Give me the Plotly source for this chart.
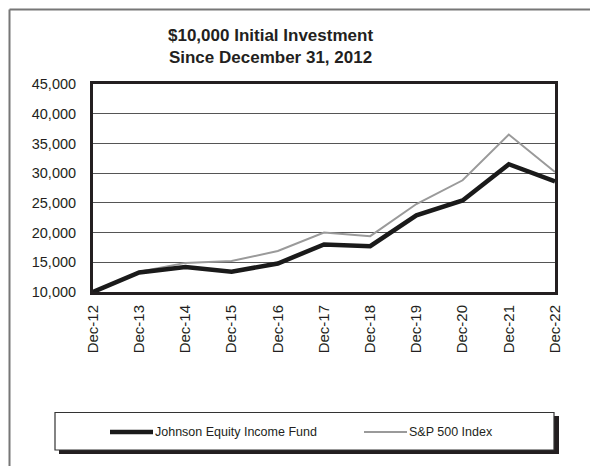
import plotly.graph_objects as go

# ---- data ----
periods = ["Dec-12", "Dec-13", "Dec-14", "Dec-15", "Dec-16", "Dec-17",
           "Dec-18", "Dec-19", "Dec-20", "Dec-21", "Dec-22"]
fund_values = [10000, 13300, 14200, 13400, 14800, 18000, 17700, 22900, 25400, 31500, 28600]
sp500_values = [10000, 13400, 14900, 15200, 16900, 20000, 19400, 24800, 28800, 36500, 30200]
y_ticks = [10000, 15000, 20000, 25000, 30000, 35000, 40000, 45000]
fund_name = "Johnson Equity Income Fund"
index_name = "S&P 500 Index"
title_text = "<b>$10,000 Initial Investment<br>Since December 31, 2012</b>"

W, H = 590, 466
L, R, T, B = 93, 555, 84, 292
FONT = "Liberation Sans, Arial, sans-serif"


def px(x):
    return (x - L) / (R - L)


def py(y):
    return (B - y) / (B - T)


fig = go.Figure()
fig.add_trace(go.Scatter(x=periods, y=sp500_values, mode="lines",
                         line=dict(color="#9a9a9a", width=2), name=index_name,
                         showlegend=False))
fig.add_trace(go.Scatter(x=periods, y=fund_values, mode="lines",
                         line=dict(color="#1a1a1a", width=4.5), name=fund_name,
                         showlegend=False))

shapes = []
# outer frame (left and top only visible)
shapes.append(dict(type="line", xref="paper", yref="paper", x0=px(9.5), x1=px(600),
                   y0=py(9.5), y1=py(9.5), line=dict(color="#777777", width=2)))
shapes.append(dict(type="line", xref="paper", yref="paper", x0=px(9.5), x1=px(9.5),
                   y0=py(9.5), y1=py(480), line=dict(color="#777777", width=2)))
# legend shadow and box
shapes.append(dict(type="rect", xref="paper", yref="paper", x0=px(59), x1=px(559),
                   y0=py(416), y1=py(454), fillcolor="#231f20",
                   line=dict(width=0), layer="above"))
shapes.append(dict(type="rect", xref="paper", yref="paper", x0=px(55), x1=px(554),
                   y0=py(412.5), y1=py(450), fillcolor="white",
                   line=dict(color="#333333", width=1.2), layer="above"))
# legend samples
shapes.append(dict(type="line", xref="paper", yref="paper", x0=px(110), x1=px(153),
                   y0=py(432), y1=py(432), line=dict(color="#1a1a1a", width=4.5),
                   layer="above"))
shapes.append(dict(type="line", xref="paper", yref="paper", x0=px(364), x1=px(407),
                   y0=py(432), y1=py(432), line=dict(color="#9a9a9a", width=2),
                   layer="above"))

annotations = [
    dict(text=fund_name, xref="paper", yref="paper", x=px(153), y=py(432),
         xanchor="left", yanchor="middle", showarrow=False,
         font=dict(family=FONT, size=12.5, color="#231f20")),
    dict(text=index_name, xref="paper", yref="paper", x=px(407), y=py(432),
         xanchor="left", yanchor="middle", showarrow=False,
         font=dict(family=FONT, size=12.5, color="#231f20")),
    dict(text=title_text, xref="paper", yref="paper", x=px(270), y=py(47),
         xanchor="center", yanchor="middle", showarrow=False,
         font=dict(family=FONT, size=17, color="#231f20")),
]

fig.update_layout(
    width=W, height=H,
    margin=dict(l=L, r=W - R, t=T, b=H - B, pad=0),
    paper_bgcolor="white", plot_bgcolor="white",
    shapes=shapes, annotations=annotations,
    showlegend=False,
    font=dict(family=FONT, size=14, color="#231f20"),
)
fig.update_xaxes(type="category", range=[0, len(periods) - 1], showgrid=False,
                 tickangle=-90, tickfont=dict(family=FONT, size=15, color="#231f20"),
                 showline=True, linecolor="#231f20", linewidth=3, mirror=True,
                 ticks="", ticklabelstandoff=4, zeroline=False)
fig.update_yaxes(range=[10000, 45000], tickvals=y_ticks,
                 ticktext=[f"{v:,}" for v in y_ticks],
                 showgrid=True, gridcolor="#555555", gridwidth=1,
                 showline=True, linecolor="#231f20", linewidth=3, mirror=True,
                 ticks="", ticklabelstandoff=11, zeroline=False,
                 tickfont=dict(family=FONT, size=14.5, color="#231f20"))

fig.write_html("out.html")
